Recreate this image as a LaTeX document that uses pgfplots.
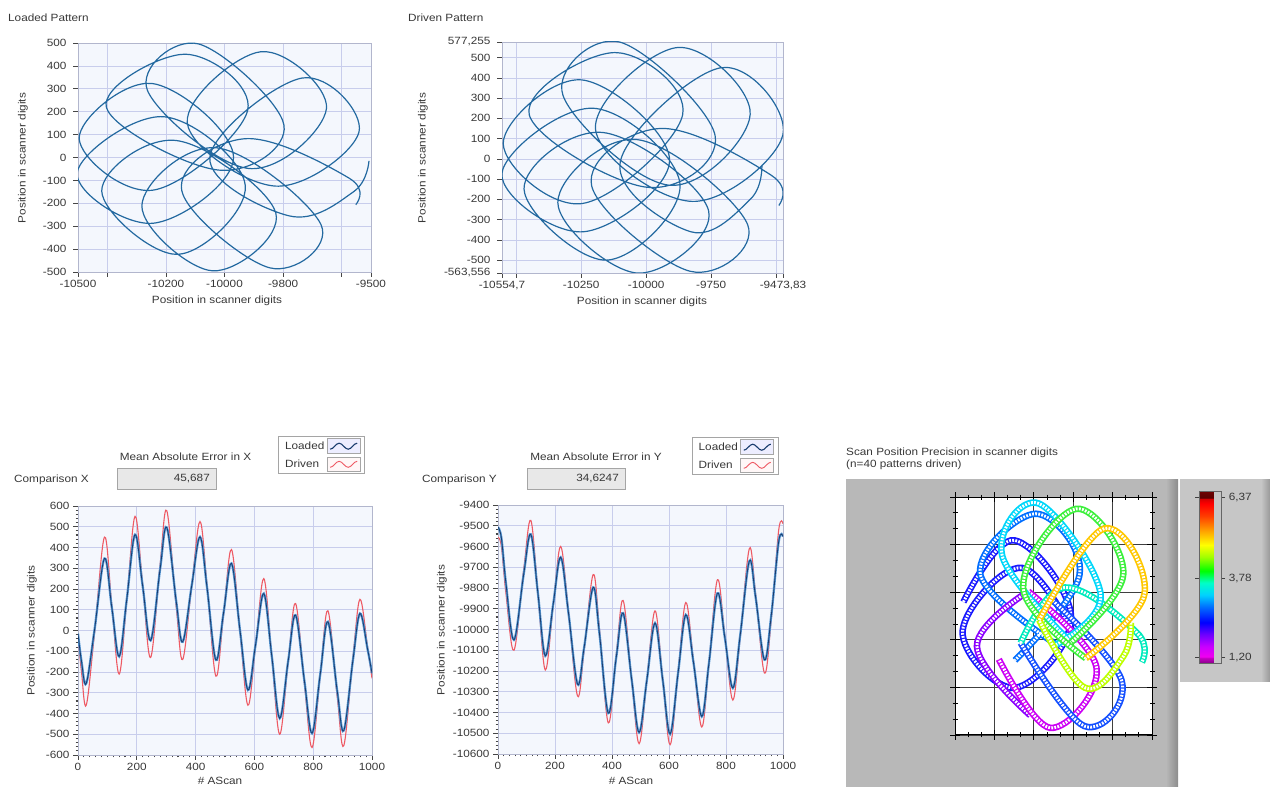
\documentclass[border=0pt]{standalone}
\usepackage{pgfplots}
\pgfplotsset{compat=1.18}
\usepackage{pgfplotstable}
\usepackage{fontspec}
\setmainfont{Liberation Sans}[FakeStretch=1.12]
\newcommand{\fs}{\fontsize{10.5}{12}\selectfont}
\definecolor{bgc}{RGB}{244,247,253}
\definecolor{gridc}{RGB}{200,205,236}
\definecolor{framec}{RGB}{178,182,205}
\definecolor{tickc}{RGB}{70,70,70}
\definecolor{textc}{RGB}{55,55,55}
\definecolor{patc}{RGB}{35,105,160}
\definecolor{lblue}{RGB}{85,150,210}
\definecolor{dblue}{RGB}{25,60,110}
\definecolor{dred}{RGB}{238,90,100}
\definecolor{boxfill}{RGB}{232,232,232}
\definecolor{boxdraw}{RGB}{165,165,165}
\definecolor{panel}{RGB}{184,184,184}
\definecolor{panel2}{RGB}{198,198,198}
\definecolor{p1}{RGB}{190,255,0}
\definecolor{p2}{RGB}{255,200,0}
\definecolor{p3}{RGB}{60,240,60}
\definecolor{p4}{RGB}{0,215,250}
\definecolor{p5}{RGB}{0,110,255}
\definecolor{p6}{RGB}{25,25,255}
\definecolor{p7}{RGB}{140,0,255}
\definecolor{p8}{RGB}{205,0,245}
\definecolor{p9}{RGB}{20,80,255}
\definecolor{p10}{RGB}{0,235,190}
\pgfkeys{/pgf/number format/.cd,1000 sep={}}

\pgfplotstableread{
t Xl Yl Xd Yd
0 -15 -9507 -30 -9555
12 -150 -9560 -200 -9600
28 -255 -9779 -360 -9828
56 1 -10050 -16 -10100
90 347 -9735 450 -9713
115 111 -9541 120 -9474
140 -125 -9825 -210 -9823
166 151 -10127 147 -10195
194 462 -9875 550 -9880
220 214 -9652 220 -9600
247 -48 -9917 -130 -9912
279 293 -10263 313 -10320
302 496 -10089 577 -10102
334 141 -9797 115 -9735
356 -55 -10020 -140 -9998
387 218 -10403 219 -10450
415 451 -10133 525 -10120
439 206 -9921 217 -9860
469 -142 -10241 -220 -10244
495 84 -10496 76 -10550
522 323 -10247 390 -10248
551 1 -9969 -6 -9910
578 -287 -10243 -360 -10242
604 -68 -10503 -73 -10555
632 178 -10208 250 -10203
659 -122 -9929 -125 -9870
686 -423 -10160 -500 -10153
715 -146 -10419 -148 -10470
740 74 -10164 130 -10165
770 -242 -9825 -256 -9760
796 -495 -10040 -564 -10033
824 -210 -10282 -215 -10340
850 42 -10026 95 -10034
882 -295 -9670 -324 -9610
904 -482 -9845 -555 -9831
935 -144 -10146 -132 -10210
959 82 -9930 150 -9948
985 -90 -9575 -80 -9520
1000 -206 -9552 -230 -9490
}\pat

\pgfplotsset{
  lvbase/.style={
    anchor=south west, scale only axis, scaled ticks=false,
    axis background/.style={fill=bgc},
    grid=major, major grid style={gridc, line width=0.7pt},
    axis line style={framec, line width=0.7pt},
    tick align=outside, major tick length=5pt, minor tick length=2.5pt,
    tick style={tickc, line width=0.7pt},
    minor tick style={tickc, line width=1.1pt},
    tick pos=left,
    tick label style={font=\fs, text=textc},
    /pgf/number format/assume math mode=true,
  },
  patline/.style={patc, line width=1.2pt, smooth, tension=0.65},
  cmpline/.style={smooth, tension=0.6, forget plot},
  precseg/.style 2 args={smooth, tension=0.65, line width=6.5pt, color=#1,
    restrict expr to domain={\thisrow{t}}{#2},
    postaction={draw=white, line width=3pt, dash pattern=on 1.8pt off 1.3pt}},
  legloaded/.style={legend image code/.code={
    \draw[draw=black!35, fill=blue!7, line width=0.6pt] (0pt,-7pt) rectangle (33pt,7.5pt);
    \draw[dblue, line width=1.1pt] (3pt,-3pt) cos (7.5pt,0pt) sin (12pt,3pt) cos (16.5pt,0pt) sin (21pt,-3pt) cos (25.5pt,0pt) sin (30pt,3pt);}},
  legdriven/.style={legend image code/.code={
    \draw[draw=black!35, fill=red!3, line width=0.6pt] (0pt,-7pt) rectangle (33pt,7.5pt);
    \draw[dred, line width=0.9pt] (3pt,-3pt) cos (7.5pt,0pt) sin (12pt,3pt) cos (16.5pt,0pt) sin (21pt,-3pt) cos (25.5pt,0pt) sin (30pt,3pt);}},
  lvlegend/.style={
    legend plot pos=right, legend cell align=left,
    legend style={at={(axis description cs:#1)}, anchor=north west, draw=boxdraw,
      line width=0.8pt, fill=white, font=\fs, text=textc, inner xsep=4pt, inner ysep=2pt,
      row sep=3pt, nodes={inner sep=2.5pt}}},
}

\begin{document}
\begin{tikzpicture}[x=1pt,y=1pt]
\path[use as bounding box] (0,0) rectangle (1270,787);
% grey panels of the precision display
\fill[panel] (846,0) rectangle (1178,307.7);
\shade[left color=panel, right color=black!45] (1166,0) rectangle (1178,307.7);
\fill[panel2] (1180,105.3) rectangle (1270,307.7);
\shade[left color=panel2, right color=black!40] (1261,105.3) rectangle (1270,307.7);

% ---------- Loaded Pattern
\begin{axis}[lvbase, at={(78pt,515pt)}, width=293pt, height=229pt,
  xmin=-10500, xmax=-9500, ymin=-500, ymax=500,
  xtick={-10500,-10400,-10200,-10000,-9800,-9600,-9500},
  xticklabels={-10500,,-10200,-10000,-9800,,-9500},
  ytick={-500,-400,...,500},
  yticklabel style={xshift=-3pt}]
\addplot[patline] table[x=Yl,y=Xl]{\pat};
\end{axis}

% ---------- Driven Pattern
\begin{axis}[lvbase, at={(502pt,514pt)}, width=281pt, height=231pt,
  xmin=-10554.7, xmax=-9473.83, ymin=-563.556, ymax=577.255,
  xtick={-10554.7,-10500,-10250,-10000,-9750,-9500,-9473.83},
  xticklabels={{-10554,7},,-10250,-10000,-9750,,{-9473,83}},
  ytick={-563.556,-500,-400,-300,-200,-100,0,100,200,300,400,500,577.255},
  yticklabels={{-563,556},-500,-400,-300,-200,-100,0,100,200,300,400,500,{577,255}},
  yticklabel style={xshift=-3pt}]
\addplot[patline] table[x=Yd,y=Xd]{\pat};
\end{axis}

% ---------- Comparison X
\begin{axis}[lvbase, at={(78pt,32pt)}, width=294pt, height=249pt,
  xmin=0, xmax=1000, ymin=-600, ymax=600,
  xtick={0,200,...,1000}, ytick={-600,-500,...,600},
  minor x tick num=9, minor y tick num=4,
  lvlegend={0.681,1.281}]
\addlegendimage{legloaded}\addlegendentry{Loaded}
\addlegendimage{legdriven}\addlegendentry{Driven}
\addplot[cmpline, dred, line width=1.1pt] table[x=t,y=Xd]{\pat};
\addplot[cmpline, lblue, line width=2.3pt] table[x=t,y=Xl]{\pat};
\addplot[cmpline, dblue, line width=0.8pt] table[x=t,y=Xl]{\pat};
\end{axis}

% ---------- Comparison Y
\begin{axis}[lvbase, at={(498pt,33pt)}, width=285pt, height=249pt,
  xmin=0, xmax=1000, ymin=-10600, ymax=-9400,
  xtick={0,200,...,1000}, ytick={-10600,-10500,...,-9400},
  minor x tick num=9, minor y tick num=4,
  lvlegend={0.68,1.273}]
\addlegendimage{legloaded}\addlegendentry{Loaded}
\addlegendimage{legdriven}\addlegendentry{Driven}
\addplot[cmpline, dred, line width=1.1pt] table[x=t,y=Yd]{\pat};
\addplot[cmpline, lblue, line width=2.3pt] table[x=t,y=Yl]{\pat};
\addplot[cmpline, dblue, line width=0.8pt] table[x=t,y=Yl]{\pat};
\end{axis}

% ---------- Scan Position Precision
\begin{axis}[at={(955pt,52pt)}, anchor=south west, scale only axis, scaled ticks=false,
  width=197pt, height=238pt,
  xmin=-10600, xmax=-9430, ymin=-600, ymax=610,
  xtick={-10600,-10366,-10132,-9898,-9664,-9430},
  ytick={-600,-358,-116,126,368,610},
  xticklabels={}, yticklabels={},
  minor x tick num=2, minor y tick num=2,
  grid=major, major grid style={black!75, line width=0.7pt},
  axis line style={black, line width=1pt},
  tick style={black, line width=0.8pt},
  tick align=center, major tick length=10pt, minor tick length=5pt,
  axis background/.style={fill=white},
  colormap={lv}{rgb255(0pt)=(130,0,130) rgb255(3.5pt)=(200,0,200) rgb255(4pt)=(240,0,240)
    rgb255(10pt)=(200,0,255) rgb255(17pt)=(110,0,255) rgb255(24pt)=(0,0,255)
    rgb255(33pt)=(0,110,255) rgb255(40pt)=(0,210,255) rgb255(47pt)=(0,255,200)
    rgb255(54pt)=(0,255,0) rgb255(62pt)=(160,255,0) rgb255(69pt)=(255,255,0)
    rgb255(77pt)=(255,165,0) rgb255(86pt)=(255,60,0) rgb255(93pt)=(255,0,0)
    rgb255(96pt)=(210,0,0) rgb255(96.5pt)=(90,0,0) rgb255(100pt)=(110,0,0)},
  point meta min=1.01, point meta max=6.57,
  colorbar,
  colorbar style={at={(parent axis.north east)}, anchor=north west,
    xshift=38.7pt, yshift=5.3pt, scale only axis, width=22pt, height=172pt,
    ytick={1.2,3.78,6.37}, yticklabels={{1,20},{3,78},{6,37}},
    yticklabel style={font=\fs, text=textc},
    tick align=outside, major tick length=4pt,
    tick style={black!75, line width=0.8pt},
    axis line style={draw=black!60, line width=0.8pt}}]
\addplot[precseg={p6}{470:660}] table[x=Yd,y=Xd]{\pat};
\addplot[precseg={p5}{356:470}] table[x=Yd,y=Xd]{\pat};
\addplot[precseg={p7}{660:740}] table[x=Yd,y=Xd]{\pat};
\addplot[precseg={p8}{740:830}] table[x=Yd,y=Xd]{\pat};
\addplot[precseg={p9}{830:935}] table[x=Yd,y=Xd]{\pat};
\addplot[precseg={p10}{935:1000}] table[x=Yd,y=Xd]{\pat};
\addplot[precseg={p4}{247:356}] table[x=Yd,y=Xd]{\pat};
\addplot[precseg={p3}{140:247}] table[x=Yd,y=Xd]{\pat};
\addplot[precseg={p1}{0:56}] table[x=Yd,y=Xd]{\pat};
\addplot[precseg={p2}{56:140}] table[x=Yd,y=Xd]{\pat};
\end{axis}

% ---------- texts
\begin{scope}[every node/.style={font=\fs, text=textc, inner sep=0pt}]
\node[anchor=west] at (8,769) {Loaded Pattern};
\node[rotate=90] at (23,629) {Position in scanner digits};
\node at (217,486) {Position in scanner digits};
\node[anchor=west] at (408,769) {Driven Pattern};
\node[rotate=90] at (423,629) {Position in scanner digits};
\node at (642,485.5) {Position in scanner digits};

\node[anchor=west] at (14,307) {Comparison X};
\node at (185.5,330.5) {Mean Absolute Error in X};
\draw[boxdraw, fill=boxfill, line width=0.7pt] (117,298) rectangle (216,319);
\node[anchor=east] at (210,308.5) {45,687};
\node[rotate=90] at (32,156.5) {Position in scanner digits};
\node at (220,6) {\# AScan};

\node[anchor=west] at (422,307) {Comparison Y};
\node at (596,330.5) {Mean Absolute Error in Y};
\draw[boxdraw, fill=boxfill, line width=0.7pt] (527,298) rectangle (625,319);
\node[anchor=east] at (619,308.5) {34,6247};
\node[rotate=90] at (442,157) {Position in scanner digits};
\node at (631,6) {\# AScan};

\node[anchor=west] at (846,334.3) {Scan Position Precision in scanner digits};
\node[anchor=west] at (846,322) {(n=40 patterns driven)};
\end{scope}
\end{tikzpicture}
\end{document}
